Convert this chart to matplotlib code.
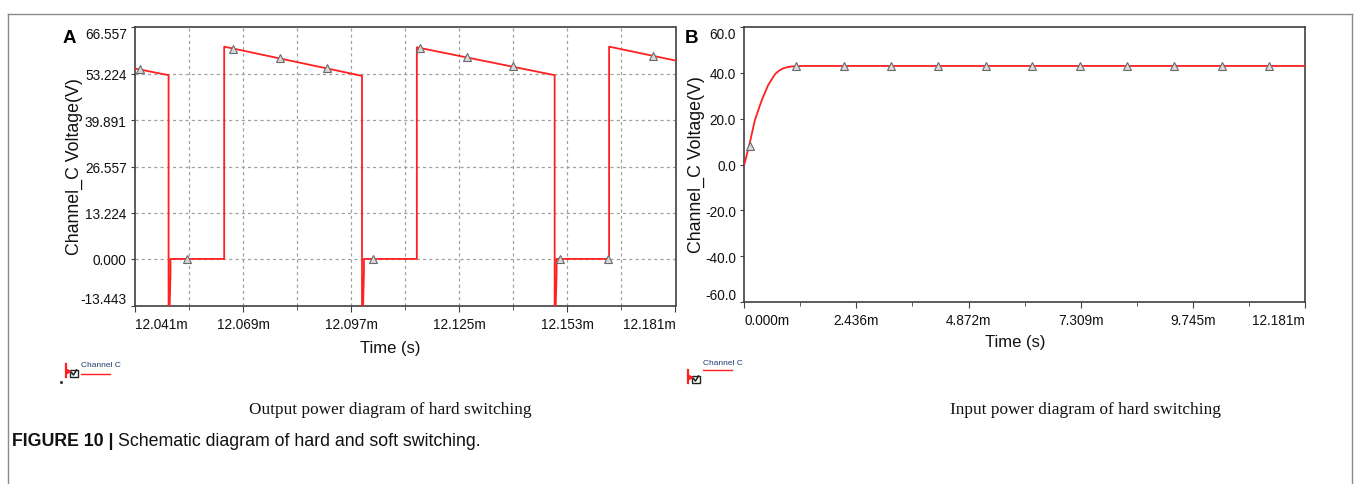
import matplotlib
matplotlib.use("Agg")
import matplotlib.pyplot as plt
from matplotlib.lines import Line2D
from matplotlib.patches import Rectangle

# ---------------- data ----------------
# Panel A: output voltage waveform (time in ms, voltage in V)
a_time = [12.041, 12.0497, 12.0497, 12.0502, 12.0502, 12.0641, 12.0641,
          12.0998, 12.0998, 12.1003, 12.1003, 12.1140, 12.1140,
          12.1497, 12.1497, 12.1502, 12.1502, 12.1638, 12.1638, 12.181]
a_volt = [54.7, 52.8, -25.0, -4.0, 0.0, 0.0, 61.0,
          52.6, -25.0, -4.0, 0.0, 0.0, 60.8,
          52.8, -25.0, -4.0, 0.0, 0.0, 61.0, 57.0]
a_mark_time = [12.0423, 12.0545, 12.0665, 12.0786, 12.0908, 12.1027,
               12.1149, 12.1271, 12.1390, 12.1512, 12.1634, 12.1753]
a_mark_volt = [54.6, 0.0, 60.4, 57.7, 54.9, 0.0, 60.6, 57.9, 55.3, 0.0, 0.0, 58.4]
a_xticks = [12.041, 12.069, 12.097, 12.125, 12.153, 12.181]
a_xtick_labels = ["12.041m", "12.069m", "12.097m", "12.125m", "12.153m", "12.181m"]
a_xgrid = [12.041, 12.055, 12.069, 12.083, 12.097, 12.111, 12.125,
           12.139, 12.153, 12.167, 12.181]
a_yticks = [-13.443, 0.0, 13.224, 26.557, 39.891, 53.224, 66.557]
a_ytick_labels = ["-13.443", "0.000", "13.224", "26.557", "39.891", "53.224", "66.557"]

# Panel B: input voltage (time in ms, voltage in V)
b_time = [0.0, 0.04, 0.10, 0.23, 0.38, 0.52, 0.67, 0.76, 0.85, 0.94, 1.03, 1.25, 12.181]
b_volt = [0.0, 3.2, 7.7, 19.4, 28.1, 34.7, 39.5, 41.0, 42.0, 42.5, 42.8, 43.0, 43.0]
b_mark_time = [0.115, 1.133, 2.163, 3.183, 4.213, 5.242, 6.26, 7.29, 8.32, 9.34, 10.37, 11.40]
b_mark_volt = [7.9, 43.0, 43.0, 43.0, 43.0, 43.0, 43.0, 43.0, 43.0, 43.0, 43.0, 43.0]
b_xticks = [0.0, 2.436, 4.872, 7.309, 9.745, 12.181]
b_xtick_labels = ["0.000m", "2.436m", "4.872m", "7.309m", "9.745m", "12.181m"]
b_xminor = [1.218, 3.654, 6.090, 8.527, 10.963]
b_yticks = [-60, -40, -20, 0, 20, 40, 60]
b_ytick_labels = ["-60.0", "-40.0", "-20.0", "0.0", "20.0", "40.0", "60.0"]

# ---------------- style ----------------
sans = "Liberation Sans"
serif = "Liberation Serif"
plt.rcParams["font.family"] = [sans, "DejaVu Sans"]

W, H = 1356, 485
fig = plt.figure(figsize=(W / 100, H / 100), dpi=100)
fig.patch.set_facecolor("white")

RED = "#ff2020"
SPINE = "#404040"
TXT = "#111111"


def fx(px):
    return px / W


def fy(py):
    return 1 - py / H


axA = fig.add_axes([fx(135), fy(306.7), (675.5 - 135) / W, (306.7 - 28.3) / H])
axB = fig.add_axes([fx(744.3), fy(303), (1305 - 744.3) / W, (303 - 28) / H])


def style_axes(ax):
    for s in ax.spines.values():
        s.set_color(SPINE)
        s.set_linewidth(1.2)
    ax.tick_params(axis="both", which="both", direction="out", color=SPINE,
                   labelsize=9.8, labelcolor=TXT)
    ax.tick_params(axis="x", which="major", length=4, pad=4)
    ax.tick_params(axis="x", which="minor", length=3)
    ax.tick_params(axis="y", which="major", length=3, pad=3)
    xl = ax.get_xticklabels()
    xl[0].set_ha("left")
    xl[-1].set_ha("right")
    yl = ax.get_yticklabels()
    yl[0].set_va("bottom")
    yl[-1].set_va("top")


# ---- Panel A ----
axA.plot(a_time, a_volt, color=RED, lw=1.3, zorder=3)
axA.plot(a_mark_time, a_mark_volt, ls="none", marker="^", ms=5.5, mfc="#d8d8d8",
         mec="#6a6a6a", mew=0.8, zorder=4)
axA.set_xlim(a_xgrid[0], a_xgrid[-1])
axA.set_ylim(a_yticks[0], a_yticks[-1])
axA.set_xticks(a_xticks)
axA.set_xticklabels(a_xtick_labels)
axA.set_xticks(a_xgrid, minor=True)
axA.set_yticks(a_yticks)
axA.set_yticklabels(a_ytick_labels)
for gx in a_xgrid[1:-1]:
    axA.axvline(gx, color="#a0a0a0", lw=0.9, dashes=(2.5, 2.5), zorder=1)
for gy in a_yticks[1:-1]:
    axA.axhline(gy, color="#a0a0a0", lw=0.9, dashes=(2.5, 2.5), zorder=1)
style_axes(axA)

# ---- Panel B ----
axB.plot(b_time, b_volt, color=RED, lw=1.3, zorder=3)
axB.plot(b_mark_time, b_mark_volt, ls="none", marker="^", ms=5.5, mfc="#d8d8d8",
         mec="#6a6a6a", mew=0.8, zorder=4)
axB.set_xlim(b_xticks[0], b_xticks[-1])
axB.set_ylim(b_yticks[0], b_yticks[-1])
axB.set_xticks(b_xticks)
axB.set_xticklabels(b_xtick_labels)
axB.set_xticks(b_xminor, minor=True)
axB.set_yticks(b_yticks)
axB.set_yticklabels(b_ytick_labels)
style_axes(axB)

# ---- axis titles ----
fig.text(fx(74), fy(167), "Channel_C Voltage(V)", rotation=90, ha="center", va="center",
         fontsize=12.8, color=TXT)
fig.text(fx(696), fy(165), "Channel_C Voltage(V)", rotation=90, ha="center", va="center",
         fontsize=12.8, color=TXT)
fig.text(fx(390), fy(348), "Time (s)", ha="center", va="center", fontsize=12, color=TXT)
fig.text(fx(1015), fy(343), "Time (s)", ha="center", va="center", fontsize=12, color=TXT)

# ---- panel letters ----
fig.text(fx(69), fy(38.5), "A", ha="center", va="center", fontsize=13.5, fontweight="bold")
fig.text(fx(692), fy(38.5), "B", ha="center", va="center", fontsize=13.5, fontweight="bold")


# ---- legends ----
def legend_block(x0, ybox, ytext, yline):
    fig.add_artist(Line2D([fx(x0), fx(x0)], [fy(ybox - 5), fy(ybox + 8)],
                          transform=fig.transFigure, color=RED, lw=1.6))
    fig.add_artist(Line2D([fx(x0 + 2)], [fy(ybox + 2)], transform=fig.transFigure,
                          marker=">", color=RED, ms=3.5, ls="none"))
    fig.add_artist(Rectangle((fx(x0 + 4), fy(ybox + 8)), 7.5 / W, 7.5 / H,
                             transform=fig.transFigure, fill=False,
                             edgecolor="#222222", lw=1.0))
    fig.add_artist(Line2D([fx(x0 + 5.5), fx(x0 + 7.5), fx(x0 + 10.5)],
                          [fy(ybox + 3.5), fy(ybox + 6), fy(ybox + 1)],
                          transform=fig.transFigure, color="#222222", lw=1.1))
    fig.text(fx(x0 + 15), fy(ytext), "Channel C", ha="left", va="center",
             fontsize=6, color="#1f3a6e")
    fig.add_artist(Line2D([fx(x0 + 15), fx(x0 + 44)], [fy(yline), fy(yline)],
                          transform=fig.transFigure, color=RED, lw=1.0))


legend_block(66, 370, 366, 375)
legend_block(688, 376, 363.5, 371)
fig.add_artist(Line2D([fx(61)], [fy(383)], transform=fig.transFigure,
                      marker="o", ms=1.2, color="#333333", ls="none"))

# ---- sub captions ----
fig.text(fx(390), fy(410), "Output power diagram of hard switching", ha="center",
         va="center", fontsize=12.4, family=serif, color=TXT)
fig.text(fx(1085), fy(410), "Input power diagram of hard switching", ha="center",
         va="center", fontsize=12.4, family=serif, color=TXT)

# ---- figure caption ----
t1 = fig.text(fx(12), fy(442), "FIGURE 10 | ", ha="left", va="center",
              fontsize=12.8, fontweight="bold", color=TXT)
fig.canvas.draw()
bb = t1.get_window_extent()
fig.text(bb.x1 / W, fy(442), "Schematic diagram of hard and soft switching.",
         ha="left", va="center", fontsize=12.8, color=TXT)

# ---- frame ----
fcol = "#8a8a8a"
fig.add_artist(Line2D([fx(8), fx(8)], [0, fy(15)], transform=fig.transFigure, color=fcol, lw=1.0))
fig.add_artist(Line2D([fx(8), fx(1352)], [fy(15), fy(15)], transform=fig.transFigure, color=fcol, lw=1.0))
fig.add_artist(Line2D([fx(1352), fx(1352)], [0, fy(15)], transform=fig.transFigure, color=fcol, lw=1.0))

fig.savefig("out.png", dpi=100, facecolor="white")
